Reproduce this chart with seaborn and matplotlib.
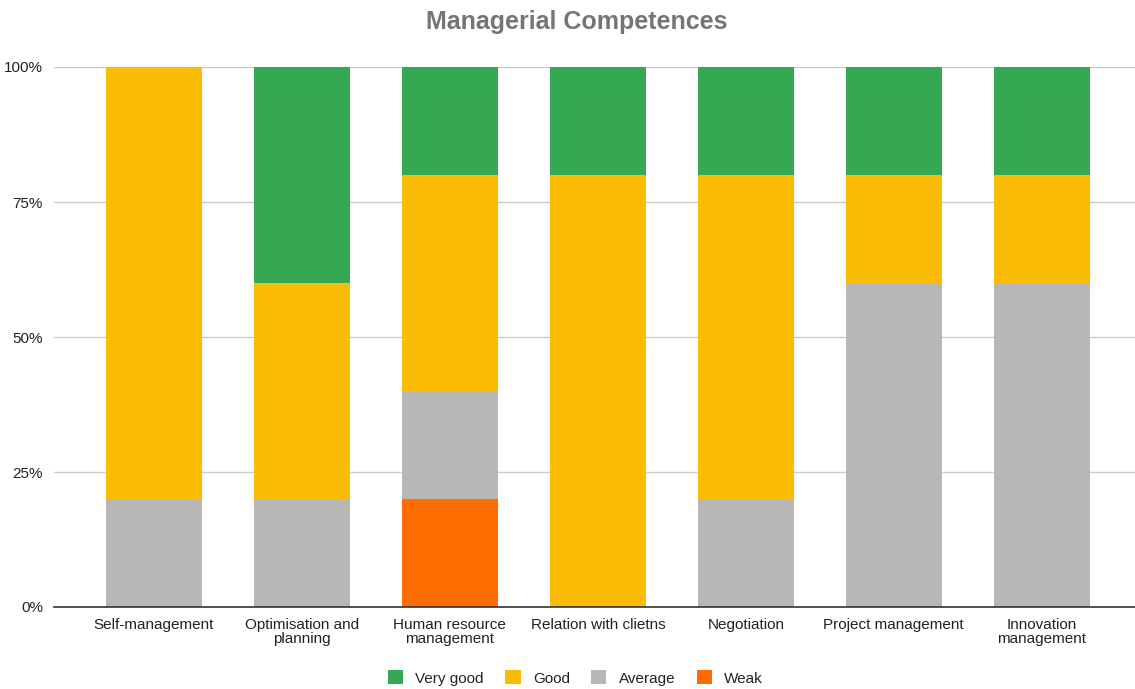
import matplotlib
matplotlib.use("Agg")
import matplotlib.pyplot as plt
import seaborn as sns
import pandas as pd
import numpy as np
from matplotlib.patches import Patch
from matplotlib.ticker import FuncFormatter

categories = ["Self-management", "Optimisation and\nplanning", "Human resource\nmanagement",
              "Relation with clietns", "Negotiation", "Project management",
              "Innovation\nmanagement"]
weak = [0, 0, 20, 0, 0, 0, 0]
average = [20, 20, 20, 0, 20, 60, 60]
good = [80, 40, 40, 80, 60, 20, 20]
very_good = [0, 40, 20, 20, 20, 20, 20]

series_names = ["Very good", "Good", "Average", "Weak"]
colors = {"Very good": "#34a853", "Good": "#fbbc04", "Average": "#b7b7b7", "Weak": "#ff6d01"}

sns.set_theme(style="white")
plt.rcParams["font.family"] = ["Liberation Sans", "DejaVu Sans"]

df = pd.DataFrame({"category": categories, "Weak": weak, "Average": average,
                   "Good": good, "Very good": very_good})
# cumulative tops, drawn from the tallest layer down so the stack reads bottom-up
df["c_weak"] = df["Weak"]
df["c_avg"] = df["c_weak"] + df["Average"]
df["c_good"] = df["c_avg"] + df["Good"]
df["c_vg"] = df["c_good"] + df["Very good"]

fig = plt.figure(figsize=(11.35, 6.89), dpi=100)
ax = fig.add_axes([54 / 1135, 1 - 607 / 689, (1135 - 54) / 1135, (607 - 67) / 689])

for col, name in [("c_vg", "Very good"), ("c_good", "Good"), ("c_avg", "Average"), ("c_weak", "Weak")]:
    sns.barplot(data=df, x="category", y=col, color=colors[name], width=0.65,
                saturation=1, linewidth=0, ax=ax, zorder=3)

ax.set_ylim(0, 100)
ax.set_xlim(-0.675, 6.63)
ax.set_yticks([0, 25, 50, 75, 100])
ax.yaxis.set_major_formatter(FuncFormatter(lambda v, _: f"{int(v)}%"))
ax.grid(axis="y", color="#cccccc", linewidth=1, zorder=0)
ax.grid(axis="x", visible=False)
for s in ["top", "right", "left"]:
    ax.spines[s].set_visible(False)
ax.spines["bottom"].set_color("#333333")
ax.spines["bottom"].set_linewidth(1.2)
ax.spines["bottom"].set_zorder(4)
ax.tick_params(axis="both", length=0, labelsize=11, labelcolor="#222222")
ax.tick_params(axis="y", pad=8)
ax.tick_params(axis="x", pad=8)
for lab in ax.get_xticklabels():
    lab.set_linespacing(0.95)
ax.set_xlabel("")
ax.set_ylabel("")

fig.suptitle("Managerial Competences", x=0.508, y=0.985, fontsize=18, fontweight="bold",
             color="#757575")

handles = [Patch(facecolor=colors[n], edgecolor="none", label=n) for n in series_names]
fig.legend(handles=handles, loc="center", bbox_to_anchor=(0.507, 1 - 678 / 689), ncol=4,
           frameon=False, fontsize=11, handlelength=1.0, handleheight=1.0,
           handletextpad=0.8, columnspacing=1.4, labelcolor="#222222")

fig.savefig("out.png", dpi=100)
